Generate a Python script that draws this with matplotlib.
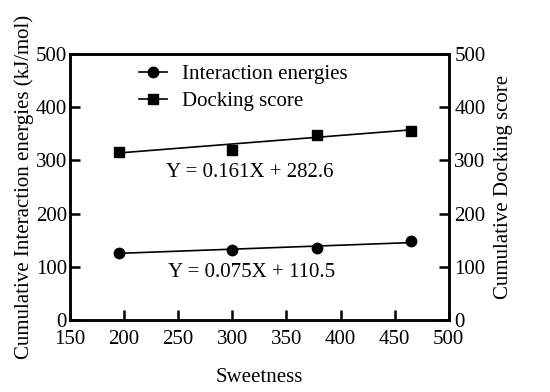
import numpy as np
import matplotlib.pyplot as plt

plt.rcParams['font.family'] = ['Liberation Serif', 'DejaVu Serif']

# data
sweetness = [195, 300, 378, 465]
interaction = [126, 131, 135, 148]
docking = [316, 320, 348, 355]

fit_int = (0.075, 110.5)
fit_dock = (0.161, 282.6)

fs = 15

fig = plt.figure(figsize=(5.5, 3.92), dpi=100)
ax = fig.add_axes([0.127, 0.184, 0.689, 0.678])

xs = np.array([min(sweetness), max(sweetness)])
ax.plot(xs, fit_int[0] * xs + fit_int[1], color='k', lw=1.2)
ax.plot(xs, fit_dock[0] * xs + fit_dock[1], color='k', lw=1.2)

ax.plot(sweetness, interaction, 'o', color='k', ms=7.5)
ax.plot(sweetness, docking, 's', color='k', ms=7.5)
h1, = ax.plot([], [], '-o', color='k', ms=7.5, lw=1.2)
h2, = ax.plot([], [], '-s', color='k', ms=7.5, lw=1.2)
ax.legend([h1, h2], ['Interaction energies', 'Docking score'], loc='upper left',
          bbox_to_anchor=(0.182, 0.96), frameon=False, fontsize=fs,
          borderpad=0, borderaxespad=0,
          handlelength=1.35, handletextpad=0.7, labelspacing=0.35)

ax.text(316, 277, 'Y = 0.161X + 282.6', ha='center', va='center', fontsize=fs)
ax.text(318, 90, 'Y = 0.075X + 110.5', ha='center', va='center', fontsize=fs)

ax.set_xlim(150, 500)
ax.set_ylim(0, 500)
ax.set_xticks(np.arange(150, 501, 50))
ax.set_yticks(np.arange(0, 501, 100))
ax.tick_params(direction='in', length=7, width=1.8, labelsize=fs)
ax.tick_params(axis='x', pad=7)
ax.tick_params(axis='y', pad=2)
ax.set_xlabel('Sweetness', fontsize=fs, labelpad=14)
ax.set_ylabel('Cumulative Interaction energies (kJ/mol)', fontsize=fs, labelpad=1)
for s in ax.spines.values():
    s.set_linewidth(1.8)

ax2 = ax.twinx()
ax2.set_ylim(0, 500)
ax2.set_yticks(np.arange(0, 501, 100))
ax2.tick_params(direction='in', length=7, width=1.8, labelsize=fs, pad=4)
ax2.set_ylabel('Cumulative Docking score', fontsize=fs, labelpad=6)
for s in ax2.spines.values():
    s.set_linewidth(1.8)

fig.savefig('out.png', dpi=100)
